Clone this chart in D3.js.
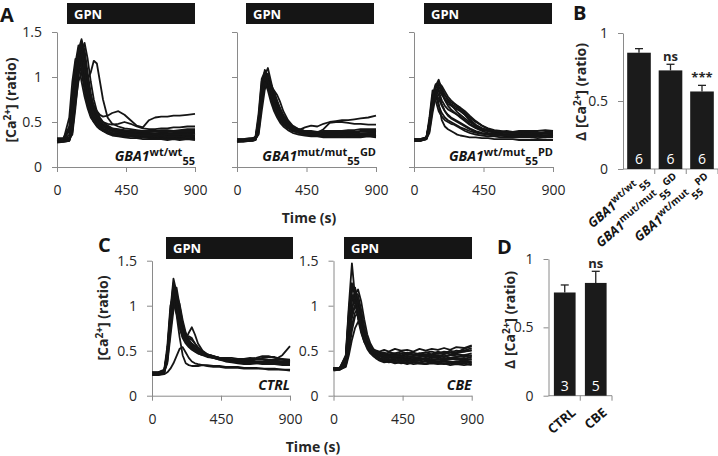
<!DOCTYPE html>
<html><head><meta charset="utf-8">
<script src="https://cdn.jsdelivr.net/npm/d3@7"></script>
<style>
html,body{margin:0;padding:0;background:#fff;}
svg{display:block;font-family:"Open Sans",sans-serif;}
</style></head><body>
<svg id="c" width="718" height="456"></svg>
<script>
// ---------- data ----------
const timeS = [0,40,80,100,120,140,160,180,200,220,240,260,280,300,330,360,400,440,480,520,560,600,640,680,720,760,800,850,900];
const yTicksTrace = [0, 0.5, 1, 1.5];
const xTicksTime = [0, 450, 900];
const yTicksBar = [0, 0.5, 1];

const tracesWT = [
 [0.30,0.30,0.31,0.50,0.95,1.30,1.42,1.25,0.95,0.75,0.62,0.55,0.50,0.46,0.43,0.41,0.39,0.38,0.37,0.37,0.36,0.36,0.36,0.35,0.36,0.35,0.35,0.36,0.35],
 [0.29,0.29,0.55,0.95,1.20,1.15,0.95,0.78,0.65,0.55,0.50,0.46,0.44,0.42,0.40,0.38,0.37,0.36,0.35,0.35,0.34,0.34,0.34,0.33,0.33,0.34,0.33,0.33,0.33],
 [0.31,0.31,0.32,0.40,0.70,0.95,1.05,1.00,0.98,1.05,1.18,1.15,0.95,0.75,0.55,0.48,0.45,0.43,0.42,0.41,0.40,0.40,0.40,0.41,0.41,0.40,0.41,0.42,0.42],
 [0.30,0.30,0.40,0.70,1.05,1.25,1.30,1.10,0.90,0.75,0.68,0.62,0.58,0.56,0.57,0.60,0.62,0.58,0.52,0.46,0.44,0.52,0.55,0.56,0.56,0.57,0.57,0.58,0.59],
 [0.29,0.29,0.30,0.45,0.90,1.25,1.38,1.20,0.95,0.78,0.66,0.58,0.53,0.50,0.48,0.47,0.48,0.50,0.48,0.45,0.43,0.42,0.42,0.43,0.43,0.44,0.44,0.45,0.45],
 [0.31,0.31,0.45,0.80,1.15,1.35,1.25,1.00,0.80,0.65,0.56,0.50,0.46,0.43,0.40,0.38,0.36,0.35,0.34,0.34,0.33,0.33,0.33,0.33,0.32,0.33,0.32,0.32,0.32],
 [0.28,0.28,0.29,0.38,0.75,1.10,1.40,1.30,1.05,0.82,0.66,0.56,0.50,0.46,0.42,0.40,0.38,0.37,0.36,0.36,0.35,0.35,0.35,0.35,0.35,0.34,0.34,0.34,0.34],
 [0.30,0.30,0.31,0.48,0.95,1.15,1.05,0.85,0.68,0.57,0.50,0.45,0.42,0.40,0.38,0.36,0.35,0.34,0.34,0.33,0.33,0.32,0.32,0.32,0.32,0.32,0.31,0.32,0.31],
 [0.29,0.30,0.30,0.42,0.85,1.20,1.32,1.15,0.92,0.72,0.60,0.53,0.48,0.45,0.42,0.40,0.39,0.38,0.38,0.37,0.37,0.37,0.37,0.38,0.37,0.38,0.38,0.38,0.38],
 [0.32,0.32,0.42,0.75,1.10,1.28,1.20,0.95,0.75,0.62,0.54,0.48,0.44,0.41,0.39,0.37,0.36,0.36,0.35,0.35,0.35,0.34,0.35,0.34,0.35,0.35,0.34,0.35,0.35],
 [0.30,0.30,0.31,0.36,0.65,1.00,1.25,1.38,1.20,0.95,0.75,0.62,0.55,0.50,0.46,0.43,0.41,0.40,0.39,0.38,0.38,0.38,0.37,0.38,0.38,0.37,0.38,0.37,0.38],
 [0.27,0.28,0.29,0.44,0.88,1.18,1.10,0.90,0.72,0.60,0.52,0.47,0.43,0.40,0.37,0.35,0.34,0.33,0.32,0.32,0.31,0.31,0.31,0.31,0.30,0.31,0.30,0.31,0.30],
 [0.31,0.31,0.32,0.50,0.98,1.30,1.36,1.10,0.85,0.70,0.60,0.54,0.50,0.47,0.44,0.42,0.41,0.40,0.40,0.39,0.39,0.39,0.40,0.39,0.40,0.40,0.40,0.40,0.40],
 [0.29,0.29,0.30,0.46,0.92,1.22,1.15,0.92,0.74,0.62,0.55,0.50,0.47,0.45,0.43,0.41,0.40,0.39,0.37,0.36,0.36,0.36,0.36,0.36,0.36,0.36,0.36,0.36,0.37],
 [0.30,0.30,0.36,0.62,1.02,1.32,1.28,1.05,0.84,0.68,0.58,0.52,0.48,0.45,0.42,0.40,0.38,0.37,0.36,0.36,0.35,0.35,0.34,0.35,0.34,0.34,0.34,0.33,0.34],
 [0.31,0.31,0.33,0.44,0.80,1.12,1.26,1.18,0.98,0.80,0.67,0.58,0.52,0.48,0.45,0.43,0.42,0.41,0.40,0.40,0.39,0.39,0.39,0.39,0.39,0.39,0.39,0.39,0.39]
];
const tracesGD = [
 [0.29,0.29,0.30,0.30,0.31,0.45,0.85,1.08,1.00,0.85,0.72,0.62,0.55,0.50,0.45,0.42,0.40,0.38,0.37,0.37,0.36,0.36,0.36,0.36,0.35,0.36,0.36,0.36,0.36],
 [0.30,0.30,0.30,0.31,0.33,0.55,0.95,1.02,1.10,0.95,0.80,0.68,0.58,0.52,0.46,0.43,0.41,0.44,0.46,0.45,0.48,0.50,0.51,0.52,0.52,0.53,0.54,0.55,0.57],
 [0.28,0.28,0.29,0.29,0.30,0.40,0.75,1.00,0.95,0.88,0.85,0.80,0.72,0.62,0.52,0.46,0.42,0.40,0.38,0.37,0.37,0.36,0.37,0.36,0.36,0.37,0.36,0.37,0.37],
 [0.30,0.30,0.31,0.31,0.32,0.50,0.90,1.05,0.92,0.78,0.66,0.58,0.52,0.48,0.44,0.41,0.40,0.39,0.38,0.38,0.42,0.49,0.50,0.50,0.49,0.48,0.48,0.47,0.47],
 [0.29,0.29,0.29,0.30,0.31,0.38,0.70,0.92,0.98,0.90,0.80,0.70,0.62,0.55,0.48,0.44,0.41,0.39,0.38,0.38,0.38,0.37,0.38,0.38,0.38,0.38,0.39,0.39,0.40],
 [0.31,0.31,0.31,0.32,0.33,0.48,0.82,0.95,0.85,0.72,0.62,0.55,0.49,0.45,0.41,0.38,0.36,0.35,0.34,0.34,0.33,0.33,0.33,0.33,0.33,0.33,0.33,0.34,0.33],
 [0.28,0.29,0.29,0.30,0.31,0.42,0.78,0.98,1.04,0.92,0.78,0.66,0.57,0.50,0.44,0.40,0.38,0.36,0.35,0.35,0.34,0.34,0.34,0.35,0.34,0.35,0.35,0.35,0.35],
 [0.30,0.30,0.30,0.31,0.32,0.44,0.80,0.90,0.88,0.84,0.78,0.72,0.65,0.58,0.50,0.45,0.42,0.40,0.39,0.39,0.38,0.38,0.38,0.39,0.39,0.39,0.40,0.40,0.41],
 [0.29,0.30,0.30,0.30,0.32,0.52,0.88,0.96,0.88,0.76,0.65,0.58,0.52,0.47,0.43,0.40,0.38,0.37,0.36,0.36,0.35,0.35,0.35,0.35,0.36,0.35,0.35,0.35,0.36],
 [0.30,0.30,0.31,0.31,0.31,0.36,0.62,0.86,0.96,0.92,0.84,0.74,0.64,0.56,0.48,0.43,0.40,0.38,0.37,0.37,0.37,0.37,0.37,0.37,0.37,0.38,0.37,0.38,0.38],
 [0.29,0.29,0.29,0.29,0.30,0.46,0.86,1.00,0.90,0.78,0.68,0.60,0.54,0.49,0.44,0.41,0.39,0.38,0.37,0.37,0.37,0.36,0.36,0.36,0.36,0.37,0.37,0.37,0.37],
 [0.31,0.31,0.32,0.32,0.33,0.47,0.84,0.94,0.90,0.82,0.74,0.66,0.59,0.53,0.47,0.43,0.41,0.40,0.40,0.39,0.40,0.40,0.40,0.40,0.41,0.41,0.42,0.42,0.42],
 [0.30,0.30,0.30,0.31,0.34,0.60,0.98,1.06,0.96,0.84,0.72,0.63,0.56,0.51,0.46,0.42,0.39,0.37,0.36,0.36,0.35,0.35,0.35,0.34,0.35,0.34,0.34,0.35,0.34]
];
const tracesPD = [
 [0.30,0.30,0.33,0.50,0.75,0.90,0.97,0.85,0.75,0.70,0.68,0.66,0.64,0.62,0.58,0.53,0.47,0.43,0.40,0.38,0.37,0.36,0.36,0.35,0.35,0.35,0.35,0.35,0.36],
 [0.29,0.29,0.32,0.55,0.85,0.80,0.68,0.60,0.55,0.52,0.50,0.48,0.46,0.44,0.42,0.40,0.38,0.37,0.36,0.35,0.35,0.34,0.34,0.34,0.34,0.33,0.34,0.33,0.34],
 [0.31,0.31,0.33,0.45,0.70,0.88,0.92,0.88,0.80,0.75,0.72,0.70,0.68,0.65,0.60,0.55,0.50,0.46,0.43,0.41,0.40,0.39,0.39,0.38,0.38,0.38,0.38,0.38,0.38],
 [0.30,0.30,0.32,0.48,0.78,0.88,0.70,0.52,0.45,0.42,0.40,0.38,0.36,0.35,0.34,0.33,0.33,0.32,0.32,0.31,0.31,0.31,0.31,0.30,0.30,0.30,0.30,0.30,0.30],
 [0.30,0.30,0.31,0.40,0.65,0.82,0.90,0.82,0.74,0.68,0.64,0.61,0.58,0.56,0.52,0.48,0.44,0.41,0.40,0.39,0.38,0.38,0.38,0.38,0.38,0.39,0.38,0.39,0.39],
 [0.29,0.29,0.31,0.52,0.80,0.92,0.84,0.74,0.68,0.64,0.62,0.60,0.58,0.55,0.51,0.47,0.43,0.40,0.38,0.37,0.36,0.36,0.36,0.36,0.36,0.36,0.36,0.37,0.36],
 [0.31,0.31,0.32,0.42,0.68,0.84,0.86,0.80,0.76,0.72,0.70,0.68,0.66,0.63,0.58,0.52,0.46,0.42,0.40,0.39,0.39,0.40,0.39,0.40,0.40,0.40,0.40,0.41,0.40],
 [0.30,0.30,0.32,0.46,0.72,0.86,0.80,0.70,0.62,0.58,0.55,0.53,0.51,0.49,0.46,0.43,0.40,0.38,0.37,0.36,0.36,0.35,0.35,0.35,0.35,0.35,0.35,0.35,0.35],
 [0.30,0.30,0.31,0.38,0.60,0.78,0.88,0.86,0.80,0.74,0.69,0.65,0.61,0.58,0.54,0.50,0.46,0.43,0.41,0.40,0.39,0.38,0.38,0.38,0.37,0.37,0.37,0.37,0.37],
 [0.29,0.29,0.31,0.50,0.76,0.74,0.62,0.56,0.52,0.50,0.48,0.47,0.45,0.43,0.40,0.38,0.36,0.35,0.34,0.34,0.33,0.33,0.33,0.33,0.33,0.33,0.32,0.33,0.33],
 [0.31,0.31,0.33,0.47,0.74,0.90,0.94,0.90,0.84,0.78,0.74,0.71,0.68,0.66,0.62,0.57,0.51,0.46,0.42,0.40,0.39,0.38,0.38,0.38,0.37,0.38,0.38,0.38,0.38],
 [0.30,0.30,0.32,0.44,0.70,0.80,0.76,0.68,0.62,0.57,0.54,0.52,0.50,0.48,0.45,0.42,0.39,0.37,0.36,0.35,0.35,0.35,0.34,0.34,0.34,0.34,0.34,0.34,0.34]
];
const tracesCTRL = [
 [0.25,0.25,0.28,0.50,0.95,1.30,1.15,0.90,0.75,0.66,0.60,0.55,0.52,0.50,0.47,0.45,0.43,0.42,0.41,0.40,0.40,0.39,0.39,0.40,0.40,0.39,0.39,0.38,0.38],
 [0.24,0.24,0.26,0.40,0.80,1.10,1.20,1.00,0.80,0.68,0.62,0.58,0.55,0.52,0.48,0.45,0.43,0.41,0.40,0.40,0.39,0.39,0.40,0.41,0.42,0.43,0.43,0.40,0.38],
 [0.26,0.26,0.28,0.45,0.85,1.15,1.00,0.78,0.65,0.62,0.70,0.76,0.68,0.58,0.50,0.46,0.44,0.42,0.40,0.39,0.38,0.38,0.37,0.37,0.37,0.37,0.36,0.37,0.36],
 [0.23,0.23,0.24,0.26,0.30,0.36,0.44,0.52,0.54,0.48,0.42,0.38,0.36,0.35,0.34,0.34,0.33,0.33,0.32,0.32,0.32,0.31,0.31,0.31,0.30,0.30,0.30,0.29,0.29],
 [0.25,0.25,0.27,0.42,0.78,1.05,0.90,0.65,0.45,0.36,0.34,0.33,0.33,0.33,0.34,0.33,0.32,0.32,0.31,0.31,0.31,0.30,0.30,0.30,0.30,0.29,0.29,0.29,0.28],
 [0.24,0.24,0.27,0.48,0.90,1.22,1.10,0.88,0.72,0.63,0.58,0.55,0.52,0.49,0.46,0.44,0.42,0.40,0.38,0.37,0.36,0.35,0.35,0.36,0.37,0.38,0.40,0.45,0.55],
 [0.26,0.26,0.29,0.55,1.00,1.12,0.92,0.75,0.64,0.58,0.54,0.51,0.49,0.47,0.45,0.43,0.42,0.41,0.41,0.40,0.40,0.40,0.41,0.42,0.44,0.44,0.42,0.41,0.40],
 [0.25,0.25,0.27,0.38,0.72,1.02,1.08,0.95,0.78,0.68,0.64,0.62,0.58,0.54,0.49,0.46,0.44,0.42,0.40,0.39,0.38,0.37,0.37,0.37,0.36,0.36,0.36,0.35,0.35],
 [0.23,0.23,0.25,0.44,0.88,1.18,0.98,0.80,0.68,0.60,0.56,0.53,0.50,0.47,0.45,0.46,0.44,0.41,0.39,0.38,0.37,0.36,0.36,0.36,0.35,0.35,0.35,0.34,0.34],
 [0.26,0.26,0.28,0.46,0.86,1.08,1.05,0.86,0.70,0.64,0.66,0.64,0.58,0.52,0.48,0.45,0.43,0.42,0.41,0.40,0.39,0.39,0.38,0.38,0.38,0.39,0.38,0.38,0.37],
 [0.24,0.24,0.26,0.36,0.66,0.95,1.12,1.02,0.84,0.70,0.62,0.57,0.53,0.50,0.47,0.44,0.42,0.40,0.39,0.38,0.37,0.37,0.37,0.37,0.37,0.36,0.37,0.36,0.36],
 [0.25,0.25,0.27,0.50,0.92,1.25,1.05,0.82,0.68,0.60,0.56,0.52,0.50,0.48,0.46,0.44,0.43,0.42,0.42,0.42,0.41,0.41,0.42,0.41,0.41,0.40,0.40,0.40,0.39]
];
const tracesCBE = [
 [0.30,0.30,0.45,1.00,1.47,1.10,0.85,0.70,0.60,0.54,0.50,0.48,0.46,0.45,0.47,0.45,0.46,0.44,0.46,0.45,0.47,0.44,0.46,0.47,0.48,0.46,0.48,0.50,0.53],
 [0.29,0.29,0.40,0.85,1.18,1.20,1.02,0.80,0.64,0.55,0.50,0.47,0.45,0.44,0.43,0.44,0.42,0.43,0.41,0.43,0.42,0.41,0.43,0.42,0.44,0.42,0.43,0.45,0.44],
 [0.30,0.30,0.36,0.70,1.05,1.15,1.12,0.95,0.75,0.60,0.52,0.48,0.46,0.45,0.43,0.42,0.44,0.41,0.42,0.40,0.41,0.42,0.40,0.41,0.40,0.42,0.41,0.40,0.41],
 [0.31,0.31,0.38,0.80,1.10,1.02,0.88,0.72,0.60,0.52,0.47,0.44,0.42,0.40,0.41,0.39,0.40,0.38,0.39,0.38,0.37,0.39,0.38,0.37,0.38,0.37,0.38,0.37,0.38],
 [0.29,0.29,0.32,0.45,0.62,0.75,0.82,0.78,0.68,0.58,0.52,0.49,0.47,0.46,0.45,0.46,0.45,0.47,0.45,0.46,0.44,0.46,0.45,0.47,0.46,0.48,0.47,0.49,0.50],
 [0.30,0.30,0.42,0.90,1.22,1.12,0.92,0.75,0.62,0.55,0.50,0.46,0.44,0.42,0.40,0.41,0.39,0.40,0.38,0.40,0.39,0.38,0.39,0.38,0.39,0.38,0.37,0.38,0.37],
 [0.28,0.29,0.34,0.60,0.95,1.12,1.18,1.05,0.85,0.68,0.58,0.52,0.49,0.47,0.48,0.46,0.47,0.45,0.48,0.46,0.47,0.48,0.46,0.49,0.47,0.50,0.48,0.52,0.55],
 [0.31,0.31,0.35,0.55,0.78,0.92,0.98,0.90,0.74,0.62,0.54,0.49,0.46,0.44,0.42,0.43,0.41,0.42,0.40,0.41,0.42,0.40,0.41,0.40,0.42,0.41,0.42,0.41,0.43],
 [0.30,0.30,0.39,0.78,1.12,1.08,0.90,0.74,0.62,0.54,0.48,0.44,0.41,0.39,0.37,0.38,0.36,0.37,0.35,0.37,0.36,0.35,0.36,0.35,0.36,0.34,0.35,0.34,0.35],
 [0.29,0.29,0.33,0.50,0.72,0.88,0.92,0.84,0.72,0.62,0.55,0.50,0.48,0.46,0.44,0.45,0.43,0.44,0.43,0.44,0.45,0.43,0.44,0.45,0.44,0.45,0.46,0.45,0.47],
 [0.30,0.30,0.41,0.88,1.16,1.20,1.05,0.86,0.70,0.60,0.53,0.49,0.46,0.44,0.42,0.40,0.42,0.39,0.41,0.39,0.40,0.41,0.39,0.40,0.39,0.41,0.40,0.39,0.40],
 [0.30,0.30,0.37,0.68,0.98,1.06,1.00,0.86,0.70,0.58,0.50,0.46,0.43,0.41,0.39,0.37,0.38,0.36,0.37,0.35,0.36,0.35,0.37,0.36,0.35,0.36,0.35,0.36,0.34],
 [0.30,0.30,0.40,0.82,1.08,1.14,0.98,0.80,0.66,0.58,0.53,0.51,0.50,0.49,0.51,0.49,0.52,0.50,0.51,0.49,0.52,0.50,0.52,0.51,0.53,0.51,0.54,0.53,0.56],
 [0.29,0.30,0.36,0.66,0.92,1.00,0.94,0.80,0.66,0.56,0.49,0.45,0.42,0.40,0.38,0.39,0.37,0.38,0.36,0.38,0.37,0.36,0.38,0.37,0.36,0.37,0.36,0.37,0.36],
 [0.31,0.31,0.44,0.95,1.25,1.15,0.96,0.78,0.64,0.56,0.51,0.48,0.47,0.48,0.46,0.48,0.47,0.49,0.47,0.48,0.46,0.48,0.49,0.47,0.49,0.48,0.50,0.49,0.51],
 [0.30,0.30,0.34,0.58,0.86,1.00,1.06,0.94,0.76,0.62,0.54,0.50,0.48,0.46,0.44,0.43,0.45,0.43,0.44,0.42,0.43,0.45,0.43,0.44,0.43,0.45,0.44,0.43,0.45]
];

const catsB = ["wt/wt", "mut/mut", "wt/mut"];
const subB = ["55", "55", "55"];
const sup2B = ["", "GD", "PD"];
const meanB = [0.855, 0.725, 0.57];
const semB = [0.03, 0.045, 0.045];
const nB = [6, 6, 6];
const sigB = ["", "ns", "***"];

const catsD = ["CTRL", "CBE"];
const meanD = [0.755, 0.825];
const semD = [0.055, 0.085];
const nD = [3, 5];
const sigD = ["", "ns"];

// ---------- drawing ----------
const svg = d3.select("#c");
const AX = "#8a8a8a", TXT = "#262626", INK = "#151515";

function styleAxis(g) {
  g.selectAll(".domain").attr("stroke", AX).attr("stroke-width", 1);
  g.selectAll(".tick line").attr("stroke", AX).attr("stroke-width", 1);
  g.selectAll(".tick text").attr("fill", TXT).style("font-size", "14px").style("font-family", "'Open Sans',sans-serif");
}

function gbaText(sel, sup, sub, sup2, big, small) {
  sel.append("tspan").text("GBA1").style("font-style", "italic").style("font-size", big + "px");
  sel.append("tspan").text(sup).attr("dy", -5).style("font-size", small + "px");
  sel.append("tspan").text(sub).attr("dy", 9).style("font-size", small + "px");
  if (sup2) sel.append("tspan").text(sup2).attr("dy", -9).style("font-size", small + "px");
}

function yLabel(x, y, delta) {
  const t = svg.append("text").attr("transform", `translate(${x},${y}) rotate(-90)`)
    .attr("text-anchor", "middle").attr("font-weight", "bold").attr("fill", TXT)
    .style("font-size", "14px");
  t.append("tspan").text((delta ? "\u0394 " : "") + "[Ca");
  t.append("tspan").text("2+").attr("dy", -5).style("font-size", "10px");
  t.append("tspan").text("] (ratio)").attr("dy", 5);
}

const tracePanels = [
  { data: tracesWT, x0: 57, x1: 195, yb: 167, yt: 32, yLab: true, gpn: [67, 195, 3, 24], lab: ["wt/wt", "55", ""] },
  { data: tracesGD, x0: 237, x1: 376, yb: 167, yt: 32, yLab: false, gpn: [246, 374, 3, 24], lab: ["mut/mut", "55", "GD"] },
  { data: tracesPD, x0: 414, x1: 553, yb: 167, yt: 32, yLab: false, gpn: [424, 552, 3, 24], lab: ["wt/mut", "55", "PD"] },
  { data: tracesCTRL, x0: 152, x1: 290, yb: 395.7, yt: 260.7, yLab: true, gpn: [166, 293, 237, 259], name: "CTRL" },
  { data: tracesCBE, x0: 333.5, x1: 471.7, yb: 395.7, yt: 260.7, yLab: true, gpn: [344, 472, 237, 259], name: "CBE" }
];

tracePanels.forEach(p => {
  const x = d3.scaleLinear().domain([0, 900]).range([p.x0, p.x1]);
  const y = d3.scaleLinear().domain([0, 1.5]).range([p.yb, p.yt]);
  const g = svg.append("g");
  g.append("rect").attr("x", p.gpn[0]).attr("y", p.gpn[2]).attr("width", p.gpn[1] - p.gpn[0])
    .attr("height", p.gpn[3] - p.gpn[2]).attr("fill", INK);
  g.append("text").attr("x", p.gpn[0] + 7).attr("y", (p.gpn[2] + p.gpn[3]) / 2 + 5)
    .attr("fill", "#fff").attr("font-weight", "bold").style("font-size", "13px").text("GPN");
  const ya = d3.axisLeft(y).tickValues(yTicksTrace).tickSize(5).tickSizeOuter(0).tickPadding(10)
    .tickFormat(p.yLab ? (d => String(d)) : (() => ""));
  const gy = g.append("g").attr("transform", `translate(${p.x0},0)`).call(ya);
  styleAxis(gy);
  const xa = d3.axisBottom(x).tickValues(xTicksTime).tickSize(5).tickSizeOuter(0).tickPadding(13).tickFormat(d => String(d));
  const gx = g.append("g").attr("transform", `translate(0,${p.yb})`).call(xa);
  styleAxis(gx);
  const line = d3.line().x((d, i) => x(timeS[i])).y(d => y(d));
  g.append("g").selectAll("path").data(p.data).join("path")
    .attr("d", line).attr("fill", "none").attr("stroke", INK).attr("stroke-width", 1.8)
    .attr("stroke-linejoin", "round");
  const t = g.append("text").attr("x", p.x1).attr("y", p.yb - 6).attr("text-anchor", "end")
    .attr("font-weight", "bold").attr("fill", INK);
  if (p.lab) gbaText(t, p.lab[0], p.lab[1], p.lab[2], 14, 11);
  else t.style("font-style", "italic").style("font-size", "14px").text(p.name);
});

svg.append("text").attr("x", 309).attr("y", 223).attr("text-anchor", "middle").attr("font-weight", "bold")
  .attr("fill", TXT).style("font-size", "14px").text("Time (s)");
svg.append("text").attr("x", 313).attr("y", 452).attr("text-anchor", "middle").attr("font-weight", "bold")
  .attr("fill", TXT).style("font-size", "14px").text("Time (s)");
yLabel(16, 100, false);
yLabel(108, 318, false);
yLabel(586, 92, true);
yLabel(515, 320, true);

function barPanel(cfg) {
  const x = d3.scaleBand().domain(cfg.cats).range([cfg.xl, cfg.xr]).paddingInner(cfg.pi).paddingOuter(cfg.po);
  const y = d3.scaleLinear().domain([0, 1]).range([cfg.yb, cfg.yt]);
  const g = svg.append("g");
  const gy = g.append("g").attr("transform", `translate(${cfg.xl},0)`)
    .call(d3.axisLeft(y).tickValues(yTicksBar).tickSize(5).tickSizeOuter(0).tickPadding(10).tickFormat(d => String(d)));
  styleAxis(gy);
  g.append("line").attr("x1", cfg.xl).attr("x2", cfg.xr).attr("y1", cfg.yb).attr("y2", cfg.yb).attr("stroke", AX);
  const bounds = cfg.cats.map((c, i) => i < cfg.cats.length - 1 ? (x(c) + x.bandwidth() + x(cfg.cats[i + 1])) / 2 : cfg.xr);
  g.selectAll(".bt").data(bounds).join("line").attr("x1", d => d).attr("x2", d => d)
    .attr("y1", cfg.yb).attr("y2", cfg.yb + 5).attr("stroke", AX);
  cfg.cats.forEach((c, i) => {
    const cx = x(c) + x.bandwidth() / 2;
    const top = y(cfg.mean[i] + cfg.sem[i]);
    g.append("line").attr("x1", cx).attr("x2", cx).attr("y1", y(cfg.mean[i])).attr("y2", top).attr("stroke", "#222").attr("stroke-width", 1.3);
    g.append("line").attr("x1", cx - 4).attr("x2", cx + 4).attr("y1", top).attr("y2", top).attr("stroke", "#222").attr("stroke-width", 1.3);
    g.append("rect").attr("x", x(c)).attr("y", y(cfg.mean[i])).attr("width", x.bandwidth())
      .attr("height", y(0) - y(cfg.mean[i])).attr("fill", "#1b1b1b");
    g.append("text").attr("x", cx).attr("y", cfg.yb - 5).attr("text-anchor", "middle").attr("fill", "#fff")
      .style("font-size", "14px").text(cfg.n[i]);
    if (cfg.sig[i]) g.append("text").attr("x", cx).attr("y", top - 3).attr("text-anchor", "middle")
      .attr("font-weight", "bold").attr("fill", TXT).style("font-size", "13px").text(cfg.sig[i]);
    const t = g.append("text").attr("transform", `translate(${cx + cfg.lx},${cfg.ly}) rotate(${cfg.rot})`)
      .attr("text-anchor", "end").attr("font-weight", "bold").attr("fill", INK);
    if (cfg.gba) gbaText(t, c, cfg.sub[i], cfg.sup2[i], 13, 10);
    else t.style("font-size", "13px").text(c);
  });
}
barPanel({ cats: catsB, mean: meanB, sem: semB, n: nB, sig: sigB, sub: subB, sup2: sup2B, gba: true,
  xl: 623, xr: 718, pi: 0.25, po: 0.133, yb: 169, yt: 33, lx: 10, ly: 181, rot: -40 });
barPanel({ cats: catsD, mean: meanD, sem: semD, n: nD, sig: sigD, gba: false,
  xl: 548.5, xr: 612, pi: 0.3, po: 0.174, yb: 395.7, yt: 259, lx: 12, ly: 414, rot: -40 });

[["A", 0, 22], ["B", 573, 20], ["C", 98, 252], ["D", 497, 254]].forEach(([l, x, y]) =>
  svg.append("text").attr("x", x).attr("y", y).attr("font-weight", "bold").attr("fill", INK)
    .style("font-size", "20px").text(l));
</script>
</body></html>
